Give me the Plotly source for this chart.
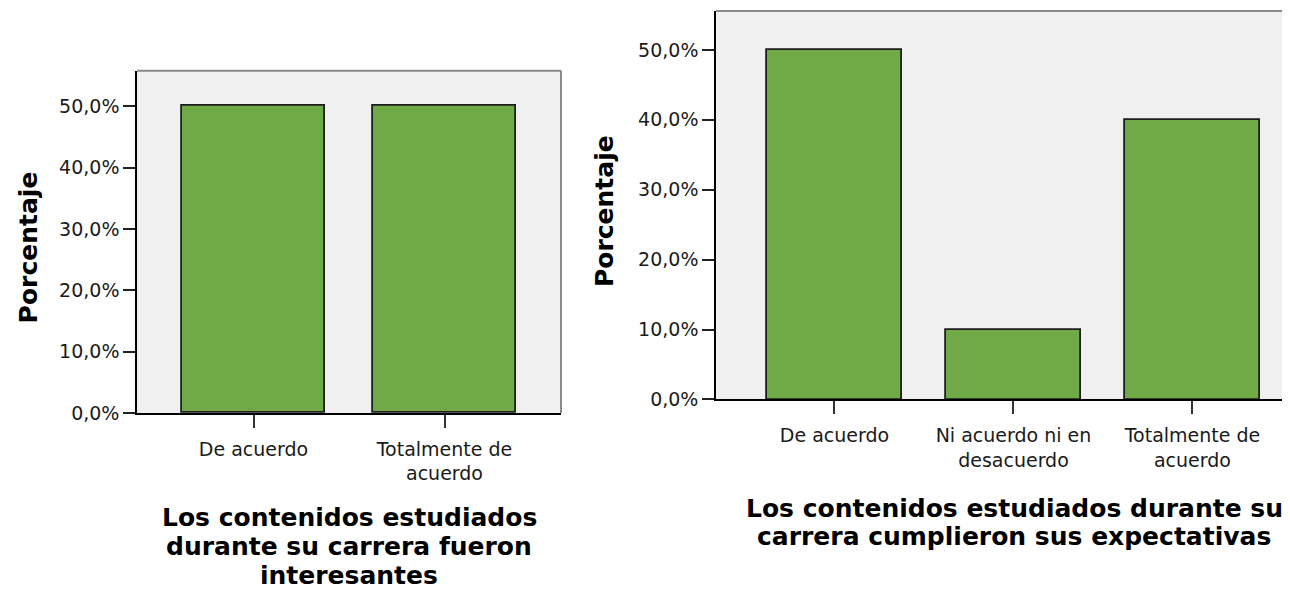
import plotly.graph_objects as go

# page is 1290x590, but the html body adds an 8px margin
PAGE_W, PAGE_H = 1290, 590
OFF = 8
W, H = PAGE_W - OFF, PAGE_H - OFF

# data
cats_left = ["De acuerdo", "Totalmente de<br>acuerdo"]
pct_left = [50.0, 50.0]
cats_right = ["De acuerdo", "Ni acuerdo ni en<br>desacuerdo", "Totalmente de<br>acuerdo"]
pct_right = [50.0, 10.0, 40.0]
y_ticks = [0, 10, 20, 30, 40, 50]
y_tick_labels = ["0,0%", "10,0%", "20,0%", "30,0%", "40,0%", "50,0%"]
y_title = "Porcentaje"
title_left = ["Los contenidos estudiados", "durante su carrera fueron", "interesantes"]
title_right = ["Los contenidos estudiados durante su", "carrera cumplieron sus expectativas"]

GREEN = "#6FAA47"
EDGE = "#1e1e1e"
FONT = "DejaVu Sans"


def px_x(x):
    # page pixel -> paper fraction
    return (x - OFF) / W


def px_y(y):
    return 1 - (y - OFF) / H


fig = go.Figure()
fig.add_trace(go.Bar(x=cats_left, y=pct_left, xaxis="x", yaxis="y", width=0.75,
                     marker=dict(color=GREEN, line=dict(color=EDGE, width=1.8))))
fig.add_trace(go.Bar(x=cats_right, y=pct_right, xaxis="x2", yaxis="y2", width=0.75,
                     marker=dict(color=GREEN, line=dict(color=EDGE, width=1.8))))

tick_font = dict(family=FONT, size=19, color="#1a1a1a")
xa = dict(type="category", showgrid=False, zeroline=False, showline=True, linecolor="black",
          linewidth=1.5, ticks="outside", ticklen=13, tickwidth=1.5, tickcolor="#333",
          ticklabelstandoff=5, tickfont=tick_font, fixedrange=True)
ya = dict(showgrid=False, zeroline=False, showline=True, linecolor="black", linewidth=1.5,
          ticks="outside", ticklen=12, tickwidth=1.5, tickcolor="#222", tickmode="array",
          tickvals=y_ticks, ticktext=y_tick_labels, tickfont=tick_font, fixedrange=True)

fig.update_layout(
    width=W, height=H, margin=dict(l=0, r=0, t=0, b=0),
    paper_bgcolor="white", plot_bgcolor="#F0F0F0", showlegend=False,
    bargap=0,
    xaxis=dict(xa, domain=[px_x(137), px_x(561)], anchor="y", range=[-0.61, 1.61]),
    yaxis=dict(ya, domain=[px_y(421), px_y(72)], anchor="x", range=[0, 55.75]),
    xaxis2=dict(xa, domain=[px_x(716), 1.0], anchor="y2", range=[-0.662, 2.545]),
    yaxis2=dict(ya, domain=[px_y(407), px_y(11)], anchor="x2", range=[0, 55.57]),
)

# gray frame edges (top/right) like the SPSS chart frame
border = dict(color="#8a8a8a", width=2)
fig.add_shape(type="line", xref="x domain", yref="y domain", x0=0, x1=1, y0=1, y1=1, line=border)
fig.add_shape(type="line", xref="x domain", yref="y domain", x0=1, x1=1, y0=0, y1=1, line=border)
fig.add_shape(type="line", xref="x2 domain", yref="y2 domain", x0=0, x1=1, y0=1, y1=1, line=border)

bold = dict(family=FONT, size=25, color="black", weight="bold")
fig.add_annotation(text=y_title, textangle=-90, xref="paper", yref="paper",
                   x=px_x(28), y=px_y(252), xanchor="center", yanchor="middle",
                   showarrow=False, font=bold)
fig.add_annotation(text=y_title, textangle=-90, xref="paper", yref="paper",
                   x=px_x(604), y=px_y(215), xanchor="center", yanchor="middle",
                   showarrow=False, font=bold)

title_font = dict(family=FONT, size=25, color="black", weight="bold")
for i, line in enumerate(title_left):
    fig.add_annotation(text=line, xref="paper", yref="paper", x=px_x(349), y=px_y(527 + 29.5 * i),
                       xanchor="center", yanchor="middle", showarrow=False, font=title_font)
for i, line in enumerate(title_right):
    fig.add_annotation(text=line, xref="paper", yref="paper", x=px_x(1014), y=px_y(518 + 29 * i),
                       xanchor="center", yanchor="middle", showarrow=False, font=title_font)

fig.write_html("out.html")
